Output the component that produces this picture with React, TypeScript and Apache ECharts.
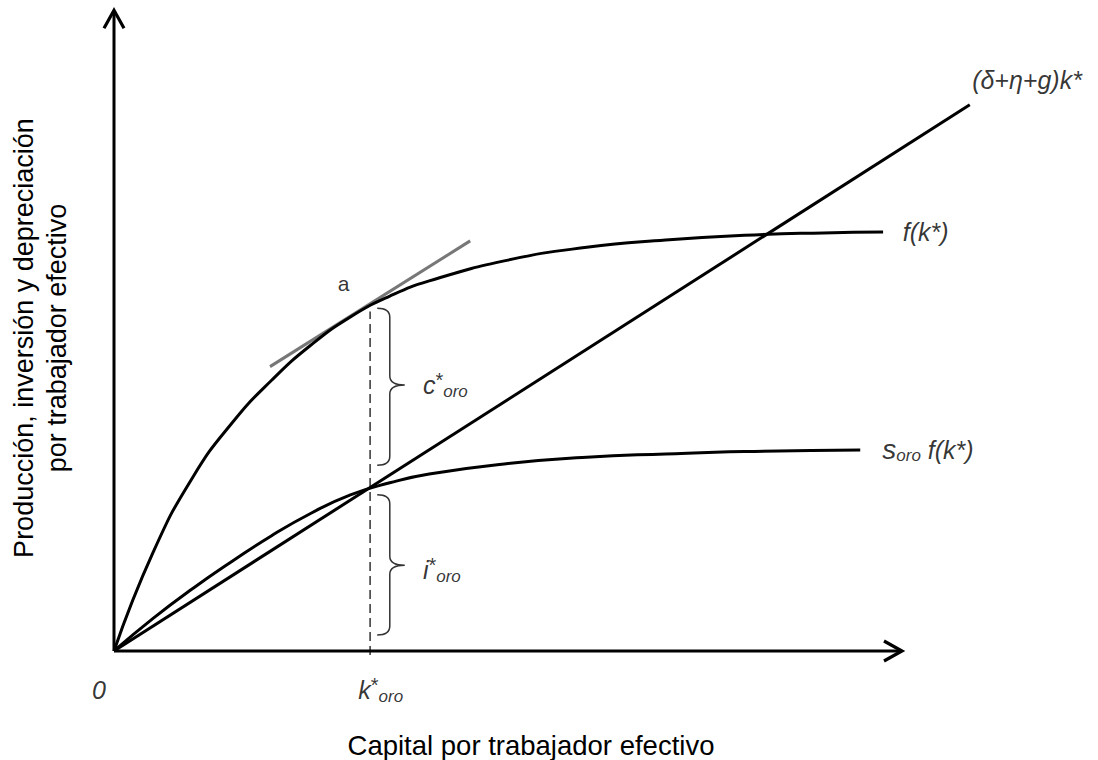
import React, { useEffect, useRef } from "react";
import * as echarts from "echarts";

// f(k*) curve
const fK = [0, 0.5, 1.0, 1.5, 2.0, 2.5, 3.0, 3.5, 4.0, 5.0, 6.0, 7.0, 8.0, 9.0, 9.76];
const fVal = [0, 1.24, 2.17, 2.85, 3.38, 3.82, 4.17, 4.43, 4.62, 4.88, 5.04, 5.13, 5.19, 5.22, 5.23];
// s_oro f(k*) curve
const sfK = [0, 0.5, 1.0, 1.5, 2.0, 2.5, 3.0, 3.5, 4.0, 5.0, 6.0, 7.0, 8.0, 9.47];
const sfVal = [0, 0.41, 0.78, 1.12, 1.44, 1.72, 1.95, 2.1, 2.21, 2.34, 2.42, 2.46, 2.49, 2.51];
// (δ+η+g)k* line
const depK = [0, 10.86];
const depVal = [0, 6.82];
// tangent at point a
const tanK = [1.98, 4.52];
const tanVal = [3.55, 5.12];
// golden rule capital
const kGold = 3.25;
const fGoldTop = 4.24;
// axes: [x1, y1, x2, y2]
const axesEnds = [
  [0, 0, 10, 0],
  [0, 0, 0, 8.0],
];
// braces: [xLeft, yTop, yBottom, xSpine, xTip, yTip]
const braces = [
  [3.34, 4.28, 2.32, 3.5, 3.69, 3.32],
  [3.34, 1.95, 0.2, 3.5, 3.69, 1.07],
];
// annotation labels
const labelRich = [
  "{big|(δ+η+g)k*}",
  "{big|f(k*)}",
  "{bigs|s}{sub|oro}{big| f(k*)}",
  "{big|c}{sup|*}{sub|oro}",
  "{big|i}{sup|*}{sub|oro}",
  "{big|k}{sup|*}{sub|oro}",
  "{big|0}",
  "{plain|a}",
];
const labelPos = [
  [10.89, 7.13],
  [10.01, 5.23],
  [9.75, 2.51],
  [3.92, 3.32],
  [3.92, 1.01],
  [3.1, -0.49],
  [-0.28, -0.49],
  [2.84, 4.59],
];
const xTitle = "Capital por trabajador efectivo";
const yTitle = "Producción, inversión y depreciación\npor trabajador efectivo";

const FONT = '"Liberation Sans", Arial, sans-serif';

export default function App() {
  const ref = useRef<HTMLDivElement>(null);
  useEffect(() => {
    if (!ref.current) return;
    const chart = echarts.init(ref.current, null, { renderer: "svg" });
    const pairs = (xs: number[], ys: number[]) => xs.map((x, i) => [x, ys[i]]);
    const option: any = {
      animation: false,
      backgroundColor: "#fff",
      grid: { left: 35.2, right: 38.4, top: 2.19, bottom: 4.87 },
      xAxis: { type: "value", min: -1, max: 12, show: false },
      yAxis: { type: "value", min: -1.3, max: 8.1, show: false },
      series: [
        {
          type: "custom",
          data: axesEnds,
          renderItem: (params: any, api: any) => {
            const s = api.coord([api.value(0), api.value(1)]);
            const e = api.coord([api.value(2), api.value(3)]);
            const dx = e[0] - s[0];
            const dy = e[1] - s[1];
            const L = Math.hypot(dx, dy);
            const ux = dx / L, uy = dy / L;
            const nx = -uy, ny = ux;
            const back = 18, half = 10;
            return {
              type: "group",
              children: [
                { type: "line", shape: { x1: s[0], y1: s[1], x2: e[0] - ux, y2: e[1] - uy }, style: { stroke: "#000", lineWidth: 3 } },
                {
                  type: "polyline",
                  shape: {
                    points: [
                      [e[0] - back * ux + half * nx, e[1] - back * uy + half * ny],
                      [e[0], e[1]],
                      [e[0] - back * ux - half * nx, e[1] - back * uy - half * ny],
                    ],
                  },
                  style: { stroke: "#000", lineWidth: 3.2, fill: null, lineJoin: "miter" },
                },
              ],
            };
          },
          z: 5,
        },
        {
          type: "line",
          data: [[kGold, -0.05], [kGold, fGoldTop]],
          showSymbol: false,
          lineStyle: { color: "#333", width: 1.5, type: [9, 5] },
          z: 2,
        },
        {
          type: "custom",
          data: braces,
          renderItem: (params: any, api: any) => {
            const xl = api.value(0), yt = api.value(1), yb = api.value(2);
            const xm = api.value(3), xt = api.value(4), ym = api.value(5);
            const pTop = api.coord([xl, yt]);
            const pBot = api.coord([xl, yb]);
            const pMid = api.coord([xm, ym]);
            const pTip = api.coord([xt, ym]);
            const r = 9;
            const d =
              `M${pTop[0]},${pTop[1]} Q${pMid[0]},${pTop[1]} ${pMid[0]},${pTop[1] + r} ` +
              `L${pMid[0]},${pMid[1] - r} Q${pMid[0]},${pMid[1]} ${pTip[0]},${pMid[1]} ` +
              `Q${pMid[0]},${pMid[1]} ${pMid[0]},${pMid[1] + r} ` +
              `L${pMid[0]},${pBot[1] - r} Q${pMid[0]},${pBot[1]} ${pBot[0]},${pBot[1]}`;
            return { type: "path", shape: { pathData: d }, style: { stroke: "#333", lineWidth: 1.5, fill: null } };
          },
          z: 2,
        },
        {
          type: "line",
          data: pairs(tanK, tanVal),
          showSymbol: false,
          lineStyle: { color: "#777", width: 3 },
          z: 3,
        },
        {
          type: "line",
          data: pairs(fK, fVal),
          showSymbol: false,
          smooth: 0.5,
          lineStyle: { color: "#000", width: 3 },
          z: 4,
        },
        {
          type: "line",
          data: pairs(sfK, sfVal),
          showSymbol: false,
          smooth: 0.5,
          lineStyle: { color: "#000", width: 3 },
          z: 4,
        },
        {
          type: "line",
          data: pairs(depK, depVal),
          showSymbol: false,
          lineStyle: { color: "#000", width: 3 },
          z: 4,
        },
        {
          type: "scatter",
          symbolSize: 0,
          clip: false,
          data: labelPos.map((p, i) => ({ value: p, label: { formatter: labelRich[i] } })),
          label: {
            show: true,
            position: "right",
            distance: 0,
            color: "#000",
            rich: {
              big: { fontSize: 25, fontStyle: "italic", fontFamily: FONT, color: "#000" },
              bigs: { fontSize: 28, fontStyle: "italic", fontFamily: FONT, color: "#000" },
              sup: { fontSize: 20, fontFamily: FONT, color: "#000", verticalAlign: "top", lineHeight: 30 },
              sub: { fontSize: 17, fontStyle: "italic", fontFamily: FONT, color: "#000", verticalAlign: "bottom", lineHeight: 22 },
              plain: { fontSize: 21, fontFamily: FONT, color: "#000" },
            },
          },
          z: 6,
        },
      ],
      graphic: [
        {
          type: "text",
          x: 531,
          y: 745,
          style: { text: xTitle, fontSize: 27.5, fontFamily: FONT, fill: "#000", align: "center", verticalAlign: "middle" },
        },
        {
          type: "text",
          x: 40,
          y: 338,
          rotation: Math.PI / 2,
          style: { text: yTitle, fontSize: 27, fontFamily: FONT, fill: "#000", align: "center", verticalAlign: "middle", lineHeight: 33 },
        },
      ],
    };
    chart.setOption(option);
    return () => chart.dispose();
  }, []);
  return <div ref={ref} style={{ position: "fixed", left: 0, top: 0, width: 1098, height: 760, background: "#fff" }} />;
}
